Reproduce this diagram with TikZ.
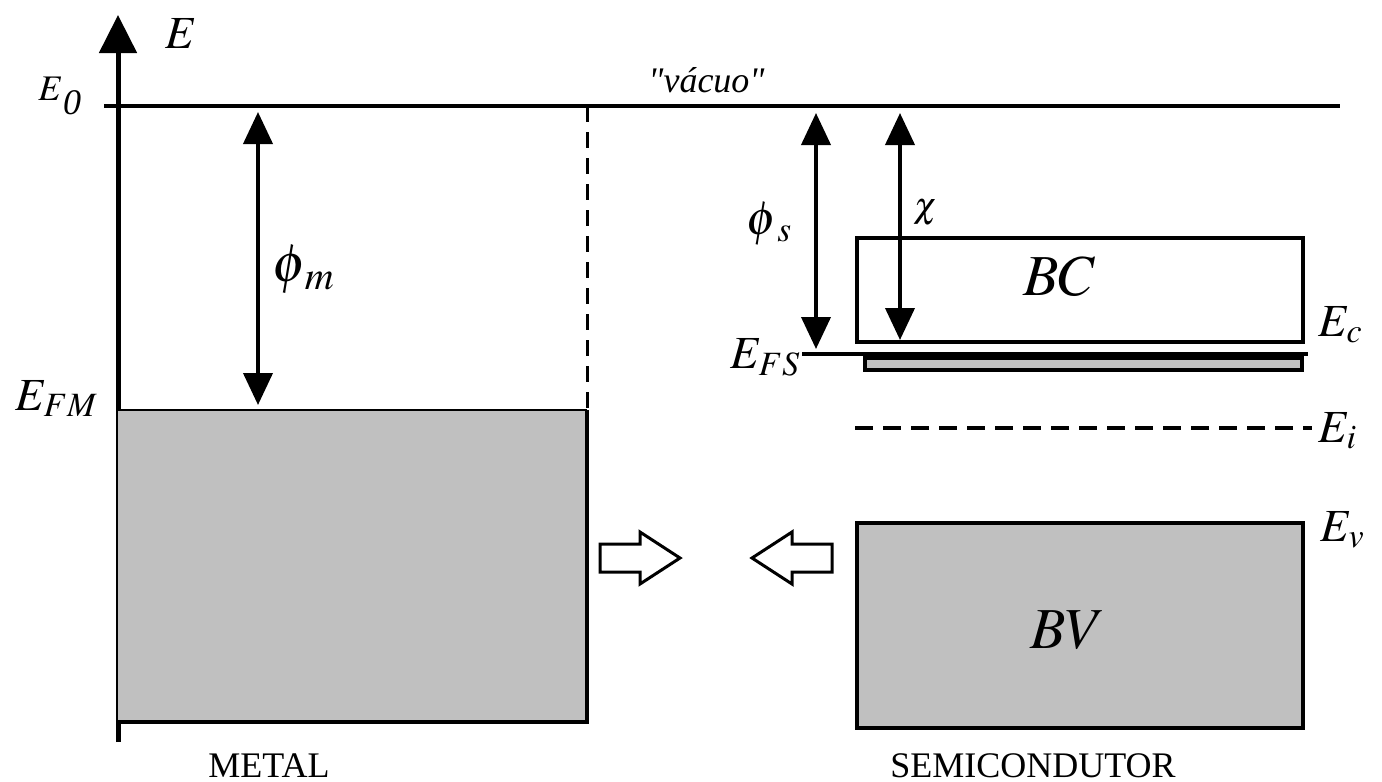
\documentclass[tikz,border=0pt]{standalone}
\usepackage{mathptmx}
\usepackage{fontspec}
\setmainfont{Liberation Serif}
\usetikzlibrary{arrows.meta}
\definecolor{banda}{RGB}{192,192,192}
\tikzset{
  lbl/.style={inner sep=0pt, anchor=base west},
  dbl/.style={line width=2pt, {Triangle[width=14.5pt,length=16pt]}-{Triangle[width=14.5pt,length=16pt]}},
  caixa/.style={line width=2pt},
  seta/.style={line width=1.5pt, line join=miter, fill=white},
}
\newcommand{\fsz}[1]{\fontsize{#1}{#1}\selectfont}

\begin{document}
\begin{tikzpicture}[x=0.5pt, y=-0.5pt]
  \useasboundingbox (0,0) rectangle (1382,782);
  % eixo E e nivel de vacuo
  \coordinate (ax0) at (118,742);
  \coordinate (ax1) at (118,15);
  \draw[line width=2.5pt, -{Triangle[width=18.5pt,length=19pt]}] (ax0) -- (ax1);
  \draw[line width=2pt] (104,106) -- (1340,106);
  \node[lbl, font=\fsz{23}] (e) at (165,48) {$E$};
  \node[lbl, font=\fsz{18}] (e0) at (38,100) {$E$\raisebox{-7pt}{\itshape 0}};
  \node[lbl, font=\fsz{18}\itshape\addfontfeatures{Ligatures=TeXOff}] (vacuo) at (648,92) {"vácuo"};
  % metal
  \fill[banda] (118,410) rectangle (587,722);
  \draw[line width=1pt] (118,410) -- (587,410);
  \draw[caixa] (118,722) -- (587,722) -- (587,410);
  \draw[line width=1.5pt, dash pattern=on 8pt off 5pt] (587,106) -- (587,410);
  \coordinate (m0) at (258,112);
  \coordinate (m1) at (258,405);
  \draw[dbl] (m0) -- (m1);
  \node[lbl, font=\fsz{27}] (phim) at (272,281) {$\phi_{\mkern2mu m}$};
  \node[lbl, font=\fsz{23}] (efm) at (15,410) {$E_{FM}$};
  \node[lbl, font=\fsz{18}] (metal) at (208,777) {METAL};
  % setas
  \draw[seta] (600,544) -- (640,544) -- (640,532) -- (680,558) -- (640,584) -- (640,572) -- (600,572) -- cycle;
  \draw[seta] (832,544) -- (792,544) -- (792,532) -- (752,558) -- (792,584) -- (792,572) -- (832,572) -- cycle;
  % semicondutor
  \draw[caixa, fill=white] (857,238) rectangle (1303,342);
  \draw[caixa] (802,354) -- (1308,354);
  \draw[caixa, fill=banda] (865,358) rectangle (1302,370);
  \draw[caixa, dash pattern=on 9pt off 5pt] (855,428) -- (1312,428);
  \draw[caixa, fill=banda] (857,523) rectangle (1303,728);
  \coordinate (s0) at (816,113);
  \coordinate (s1) at (816,349);
  \coordinate (c0) at (900,113);
  \coordinate (c1) at (900,340);
  \draw[dbl] (s0) -- (s1);
  \draw[dbl] (c0) -- (c1);
  \node[lbl, font=\fsz{24}] (phis) at (746,234) {$\phi_{\mkern3mu s}$};
  \node[lbl, font=\fsz{18}] (chi) at (913,217) {$\chi$};
  \node[lbl, font=\fsz{29}] (bc) at (1023,295) {$BC$};
  \node[lbl, font=\fsz{29}] (bv) at (1030,648) {$BV$};
  \node[lbl, font=\fsz{23}] (efs) at (730,368) {$E_{FS}$};
  \node[lbl, font=\fsz{23}] (ec) at (1318,336) {$E_c$};
  \node[lbl, font=\fsz{23}] (ei) at (1318,442) {$E_i$};
  \node[lbl, font=\fsz{23}] (ev) at (1320,541) {$E_v$};
  \node[lbl, font=\fsz{18}] (semi) at (890,777) {SEMICONDUTOR};
\end{tikzpicture}
\end{document}
